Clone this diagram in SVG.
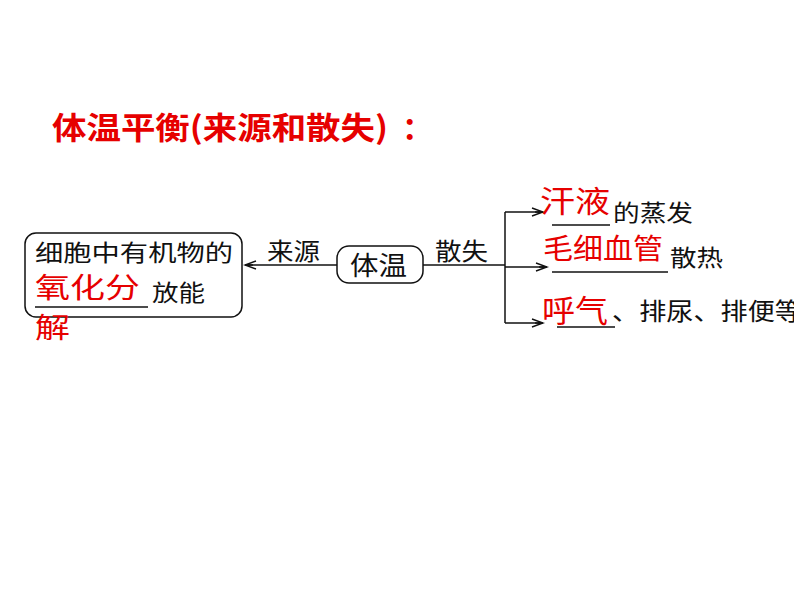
<svg xmlns="http://www.w3.org/2000/svg" width="794" height="596" viewBox="0 0 794 596">
<style>
text{font-family:"Noto Sans CJK SC","Liberation Sans",sans-serif;}
.title{fill:#E60000;font-weight:bold;font-size:31px;}
.blk{fill:#111;}
.red{fill:#E60000;}
.ln{stroke:#111;stroke-width:1.5;fill:none;}
.ul{stroke:#111;stroke-width:1.3;}
</style>
<defs>
<marker id="arr" markerUnits="userSpaceOnUse" markerWidth="14" markerHeight="12" refX="12" refY="6" orient="auto">
<path d="M1,2 L12,6 L1,10 M4,6 L12,6" fill="none" stroke="#111" stroke-width="1.4"/>
</marker>
</defs>
<rect width="794" height="596" fill="#fff"/>
<g id="title">
<text class="title" x="52" y="139" textLength="336" lengthAdjust="spacingAndGlyphs">体温平衡(来源和散失)</text>
<text class="title" x="402" y="139">：</text>
</g>
<g id="connectors">
<line class="ln" x1="337" y1="265" x2="245" y2="265" marker-end="url(#arr)"/>
<line class="ln" x1="423" y1="265" x2="505" y2="265"/>
<line class="ln" x1="505" y1="212" x2="505" y2="323"/>
<line class="ln" x1="505" y1="212" x2="543" y2="212" marker-end="url(#arr)"/>
<line class="ln" x1="505" y1="267" x2="547" y2="267" marker-end="url(#arr)"/>
<line class="ln" x1="505" y1="323" x2="543" y2="323" marker-end="url(#arr)"/>
</g>
<g id="source">
<rect x="25" y="233" width="217" height="84" rx="11" class="ln"/>
<text class="blk" font-size="23" x="35" y="261" textLength="198" lengthAdjust="spacingAndGlyphs">细胞中有机物的</text>
<text class="red" font-size="28" x="35" y="298" textLength="105" lengthAdjust="spacingAndGlyphs">氧化分</text>
<line class="ul" x1="35" y1="307" x2="148" y2="307"/>
<text class="blk" font-size="23" x="152" y="301" textLength="53" lengthAdjust="spacingAndGlyphs">放能</text>
<text class="red" font-size="28" x="35" y="338" textLength="35" lengthAdjust="spacingAndGlyphs">解</text>
</g>
<g id="label-source">
<text class="blk" font-size="24" x="267" y="260" textLength="53" lengthAdjust="spacingAndGlyphs">来源</text>
</g>
<g id="body-temp">
<rect x="337" y="246" width="86" height="37" rx="12" class="ln"/>
<text class="blk" font-size="26" x="350" y="274.5" textLength="57" lengthAdjust="spacingAndGlyphs">体温</text>
</g>
<g id="label-loss">
<text class="blk" font-size="24" x="435" y="260" textLength="53" lengthAdjust="spacingAndGlyphs">散失</text>
</g>
<g id="sweat">
<text class="red" font-size="30" x="540" y="212" textLength="70" lengthAdjust="spacingAndGlyphs">汗液</text>
<line class="ul" x1="552" y1="225" x2="610" y2="225"/>
<text class="blk" font-size="23" x="613" y="221" textLength="80" lengthAdjust="spacingAndGlyphs">的蒸发</text>
</g>
<g id="capillary">
<text class="red" font-size="28" x="543" y="259" textLength="120" lengthAdjust="spacingAndGlyphs">毛细血管</text>
<line class="ul" x1="552" y1="272" x2="668" y2="272"/>
<text class="blk" font-size="23" x="670" y="266" textLength="53" lengthAdjust="spacingAndGlyphs">散热</text>
</g>
<g id="breath">
<text class="red" font-size="31" x="542" y="322" textLength="66" lengthAdjust="spacingAndGlyphs">呼气</text>
<line class="ul" x1="557" y1="327" x2="615" y2="327"/>
<text class="blk" font-size="24" x="612" y="320" textLength="190" lengthAdjust="spacingAndGlyphs">、排尿、排便等</text>
</g>
</svg>
